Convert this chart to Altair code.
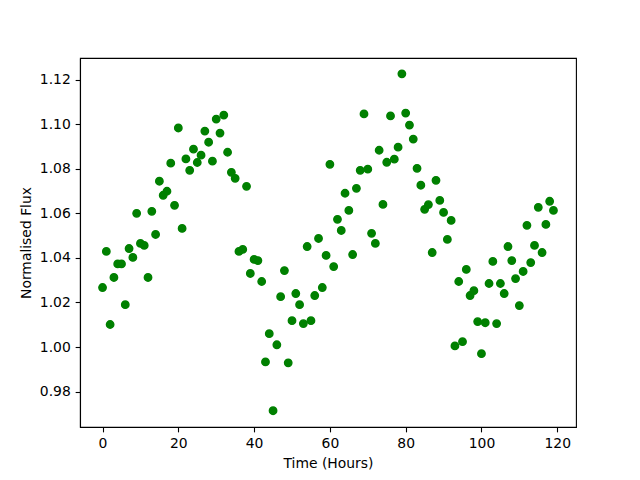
import altair as alt
import pandas as pd

hours = list(range(120))
flux = [
    1.0267, 1.0429, 1.0101, 1.0312, 1.0373, 1.0373, 1.0190, 1.0442, 1.0402, 1.0600,
    1.0465, 1.0456, 1.0312, 1.0609, 1.0505, 1.0744, 1.0681, 1.0699, 1.0825, 1.0636,
    1.0983, 1.0532, 1.0844, 1.0793, 1.0888, 1.0828, 1.0861, 1.0969, 1.0919, 1.0834,
    1.1023, 1.0960, 1.1041, 1.0874, 1.0784, 1.0757, 1.0429, 1.0438, 1.0721, 1.0330,
    1.0393, 1.0388, 1.0294, 0.9933, 1.0060, 0.9714, 1.0010, 1.0226, 1.0343, 0.9929,
    1.0118, 1.0240, 1.0190, 1.0105, 1.0451, 1.0118, 1.0231, 1.0487, 1.0267, 1.0411,
    1.0820, 1.0361, 1.0573, 1.0523, 1.0690, 1.0613, 1.0415, 1.0712, 1.0793, 1.1046,
    1.0798, 1.0510, 1.0465, 1.0883, 1.0640, 1.0829, 1.1037, 1.0843, 1.0897, 1.1226,
    1.1050, 1.0996, 1.0933, 1.0802, 1.0726, 1.0618, 1.0639, 1.0424, 1.0748, 1.0658,
    1.0604, 1.0483, 1.0568, 1.0005, 1.0294, 1.0024, 1.0348, 1.0231, 1.0253, 1.0114,
    0.9970, 1.0109, 1.0285, 1.0384, 1.0105, 1.0285, 1.0240, 1.0451, 1.0388, 1.0307,
    1.0186, 1.0339, 1.0546, 1.0379, 1.0456, 1.0627, 1.0424, 1.0550, 1.0654, 1.0613,
]
x_ticks = [0, 20, 40, 60, 80, 100, 120]
y_ticks = [0.98, 1.00, 1.02, 1.04, 1.06, 1.08, 1.10, 1.12]

df = pd.DataFrame({"Time": hours, "Flux": flux})

FONT = "DejaVu Sans"
FS = 13.9

chart = alt.Chart(df).mark_circle(
    size=55, color="#008000", opacity=1, stroke="#008000", strokeWidth=1.4
).encode(
    x=alt.X(
        "Time:Q",
        scale=alt.Scale(domain=[-5.95, 124.95], nice=False, zero=False),
        axis=alt.Axis(values=x_ticks, title="Time (Hours)", format="d"),
    ),
    y=alt.Y(
        "Flux:Q",
        scale=alt.Scale(domain=[0.9641, 1.1297], nice=False, zero=False),
        axis=alt.Axis(values=y_ticks, title="Normalised Flux", format=".2f"),
    ),
).properties(
    width=496,
    height=369,
    autosize=alt.AutoSizeParams(type="none"),
    padding={"left": 72, "top": 50, "right": 48, "bottom": 50},
).configure_view(
    stroke="black", strokeWidth=1.1
).configure_axis(
    grid=False,
    domainColor="black",
    domainWidth=1.1,
    tickColor="black",
    tickWidth=1.1,
    tickSize=4.86,
    labelPadding=4.86,
    labelFont=FONT,
    labelFontSize=FS,
    labelColor="black",
    titleFont=FONT,
    titleFontSize=FS,
    titleFontWeight="normal",
    titleColor="black",
    titlePadding=5.6,
)

chart.save("out.html", embed_options={"renderer": "svg", "actions": False})
